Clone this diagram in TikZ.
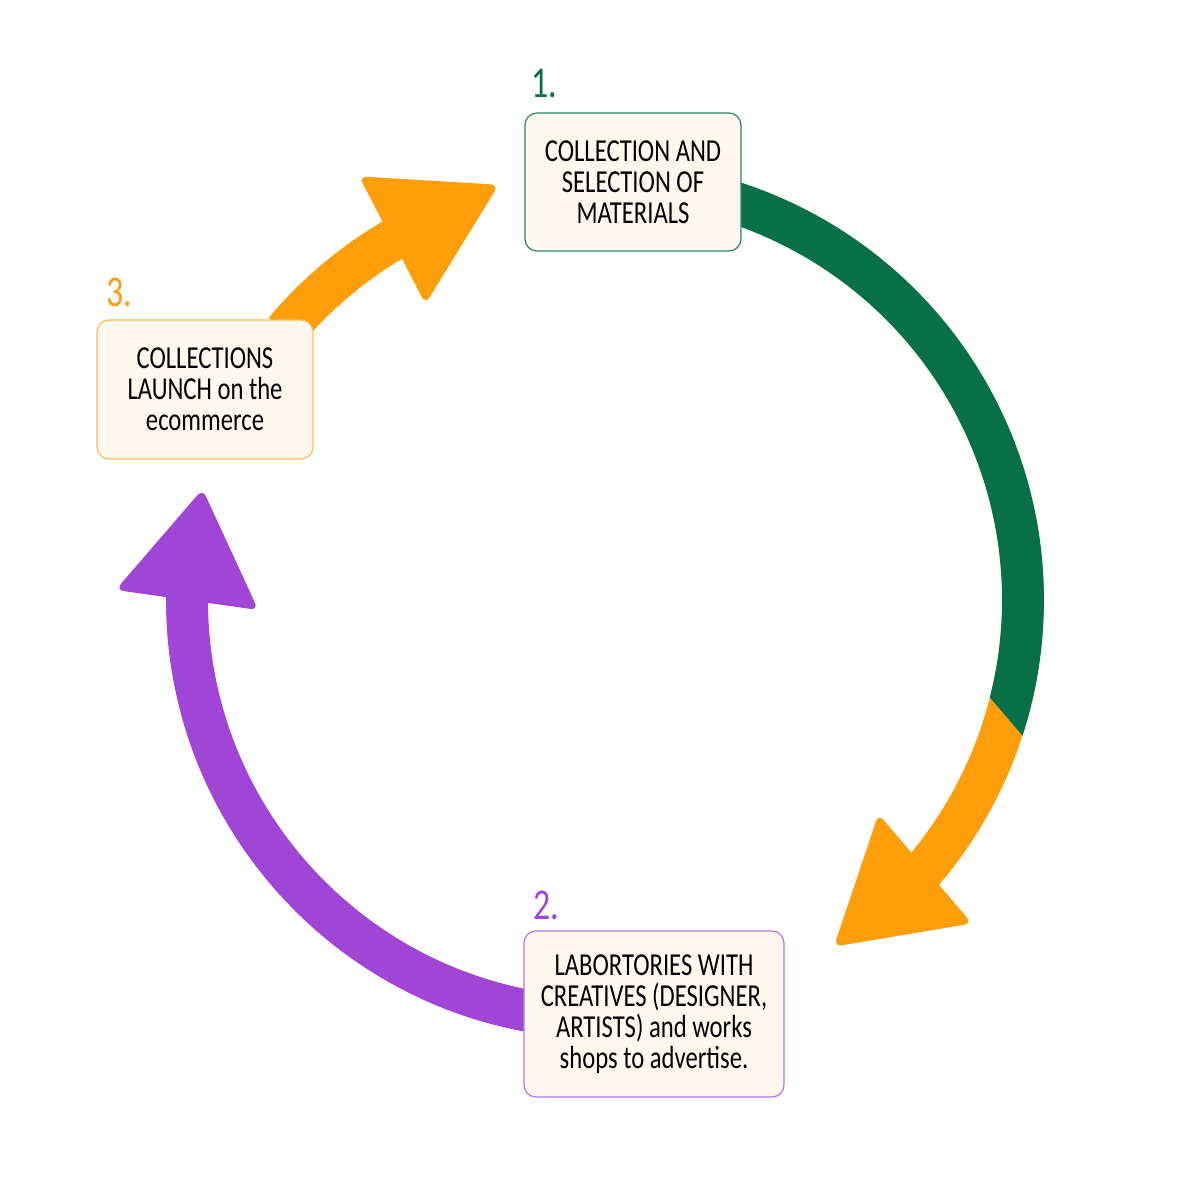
\documentclass[tikz,border=0pt]{standalone}
\usepackage{fontspec}
\setmainfont{Carlito}[FakeStretch=0.77]
\usepackage{xcolor}
\usetikzlibrary{calc}

\definecolor{cream}{HTML}{FEF8EF}
\definecolor{leafgreen}{HTML}{087049}
\definecolor{sunorange}{HTML}{FF9E0B}
\definecolor{grape}{HTML}{A145D6}

\begin{document}
\begin{tikzpicture}[x=0.5pt,y=0.5pt,
	band/.style={line width=21pt},
	headtip/.style={rounded corners=4pt},
	stage/.style={rounded corners=6pt, fill=cream, line width=0.6pt, align=center, inner sep=4pt,
		font=\fontsize{16}{15.5}\selectfont},
	numlabel/.style={anchor=base west, font=\fontsize{22}{22}\selectfont}]
\useasboundingbox (-605,-592) rectangle (595,600);
% bands of the cycle
\draw [band, sunorange] (-10:418) arc[start angle=-10, end angle=-41, radius=418];
\begin{scope}
	\clip (-213,600) -- (717,-485) -- (717,600) -- cycle;
	\draw [band, leafgreen] (85:418) arc[start angle=85, end angle=-25, radius=418];
\end{scope}
\draw [band, grape] (-95:418) arc[start angle=-95, end angle=-181, radius=418];
\draw [band, sunorange] (140:418) arc[start angle=140, end angle=119, radius=418];
% arrow heads
\fill [headtip, sunorange] ($(-40:418)+(-49.5:72)$) -- ($(-40:418)+(-139.5:120)$) -- ($(-40:418)+(130.5:72)$) -- cycle;
\fill [headtip, grape] ($(180:418)+(172:72)$) -- ($(180:418)+(82:112)$) -- ($(180:418)+(-8:72)$) -- cycle;
\fill [headtip, sunorange] ($(120.6:418)+(117.5:72)$) -- ($(120.6:418)+(-62.5:72)$) -- ($(120.6:418)+(27.5:120)$) -- cycle;
% stages
\node [stage, draw=leafgreen!85, minimum width=108pt, minimum height=69pt] (collect) at (28,418)
	{COLLECTION AND\\SELECTION OF\\MATERIALS};
\node [stage, draw=grape!75, minimum width=130pt, minimum height=83pt] (labs) at (49,-414)
	{LABORTORIES WITH\\CREATIVES (DESIGNER,\\ARTISTS) and works\\shops to advertise.};
\node [stage, draw=sunorange!70, minimum width=108pt, minimum height=69.5pt] (launch) at (-400,210.5)
	{COLLECTIONS\\LAUNCH on the\\ecommerce};
\node [numlabel, leafgreen] (num1) at ($(collect.north west)+(0,15)$) {1.};
\node [numlabel, grape] (num2) at ($(labs.north west)+(3,11)$) {2.};
\node [numlabel, sunorange] (num3) at ($(launch.north west)+(3,13)$) {3.};
\end{tikzpicture}
\end{document}
